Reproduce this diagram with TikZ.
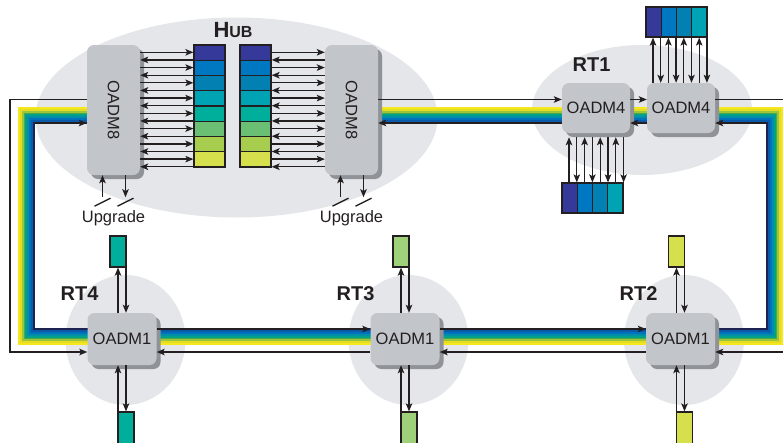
\documentclass[tikz,border=0pt]{standalone}
\usepackage{fontspec}
\setmainfont{Liberation Sans}
\usetikzlibrary{arrows.meta,shadows,calc}
\definecolor{wA}{HTML}{34399A}
\definecolor{wB}{HTML}{0078C1}
\definecolor{wC}{HTML}{0180B1}
\definecolor{wD}{HTML}{00A3B4}
\definecolor{wE}{HTML}{00AE9C}
\definecolor{wF}{HTML}{6ABF74}
\definecolor{wG}{HTML}{A6CD4E}
\definecolor{wH}{HTML}{D6E04C}
\definecolor{rtthree}{HTML}{9FD17A}
\definecolor{bgg}{HTML}{E5E6E9}
\definecolor{boxg}{HTML}{C2C5CA}
\definecolor{shadg}{HTML}{8F9297}
\definecolor{ink}{HTML}{231F20}
\definecolor{bzero}{HTML}{1E2452}
\definecolor{bone}{HTML}{0B5AAA}
\definecolor{btwo}{HTML}{0072BC}
\definecolor{bthree}{HTML}{008FA8}
\definecolor{bfour}{HTML}{00A08A}
\definecolor{bfive}{HTML}{48AA4C}
\definecolor{bsix}{HTML}{9CC53A}
\definecolor{bseven}{HTML}{E4DD24}
\definecolor{beight}{HTML}{F6E71C}
\begin{document}
\begin{tikzpicture}[x=1pt,y=-1pt,
  ln/.style={draw=ink, line width=1.35pt},
  ar/.style={ln, -{Stealth[length=8pt,width=6.5pt,inset=1.8pt]}},
  oadm/.style={fill=boxg, rounded corners=7pt, inner sep=0pt,
     drop shadow={shadow xshift=4pt, shadow yshift=-4pt, fill=shadg, opacity=1}},
  boxtext/.style={font=\fontsize{16.5}{18}\selectfont, text=ink},
  cell/.style={draw=ink, line width=1.2pt, inner sep=0pt},
  rtlabel/.style={font=\fontsize{20}{21}\selectfont\bfseries, text=ink, anchor=base},
  uptext/.style={font=\fontsize{16.5}{18}\selectfont, text=ink, anchor=base}]
\useasboundingbox (0,0) rectangle (783,442);
% background ellipses
\fill[bgg] (236.5,117.5) ellipse [x radius=201, y radius=100];
\fill[bgg] (642,110) ellipse [x radius=110, y radius=65];
\fill[bgg] (125.5,340) ellipse [x radius=60, y radius=65];
\fill[bgg] (408.5,340) ellipse [x radius=60, y radius=65];
\fill[bgg] (684,340) ellipse [x radius=60, y radius=65];
% ring band
\foreach \t/\c in {16.15/beight,14.25/bseven,12.35/bsix,10.45/bfive,8.55/bfour,6.65/bthree,4.75/btwo,2.85/bone,0.95/bzero}{
  \draw[\c, line width=1.98pt]
    (113.5,{124-\t}) -- ({35-\t},{124-\t}) -- ({35-\t},{328+\t}) -- ({766+\t},{328+\t})
    -- ({766+\t},{124-\t}) -- (351.5,{124-\t});
}
% boxes
\node[oadm, minimum width=53pt, minimum height=130pt] (hubL) at (113.5,110) {};
\node[boxtext, rotate=-90] (hubLt) at (hubL.center) {OADM8};
\node[oadm, minimum width=53pt, minimum height=130pt] (hubR) at (351.5,110) {};
\node[boxtext, rotate=-90] (hubRt) at (hubR.center) {OADM8};
\node[oadm, boxtext, minimum width=68pt, minimum height=50pt] (rt1L) at (596,108) {OADM4};
\node[oadm, boxtext, minimum width=68pt, minimum height=50pt] (rt1R) at (681,108) {OADM4};
\node[oadm, boxtext, minimum width=69pt, minimum height=52pt] (rt4) at (122,339) {OADM1};
\node[oadm, boxtext, minimum width=69pt, minimum height=52pt] (rt3) at (405,339) {OADM1};
\node[oadm, boxtext, minimum width=69pt, minimum height=52pt] (rt2) at (680.5,339) {OADM1};
% labels
\node[anchor=base, text=ink] (hublab) at (233,37) {\fontsize{22}{23}\selectfont\bfseries H\fontsize{16}{17}\selectfont UB};
\node[rtlabel] (l1) at (591.5,71) {RT1};
\node[rtlabel] (l4) at (79.5,300) {RT4};
\node[rtlabel] (l3) at (355.5,300) {RT3};
\node[rtlabel] (l2) at (638.5,300) {RT2};
% hub wavelength arrays
\foreach \i/\c in {0/wA,1/wB,2/wC,3/wD,4/wE,5/wF,6/wG,7/wH}{
  \node[cell, fill=\c, minimum width=31pt, minimum height=15.25pt] (lc\i) at (209.5,{52.6+15.25*\i}) {};
  \node[cell, fill=\c, minimum width=31pt, minimum height=15.25pt] (rc\i) at (255.5,{52.6+15.25*\i}) {};
}
\foreach \k in {0,2,...,14}{
  \pgfmathsetmacro\yy{52.3+7.63*\k}
  \draw[ar] (hubL.east |- 0,\yy) -- (lc0.west |- 0,\yy);
  \draw[ar] (rc0.east |- 0,\yy) -- (hubR.west |- 0,\yy);
}
\foreach \k in {1,3,...,15}{
  \pgfmathsetmacro\yy{52.3+7.63*\k}
  \draw[ar] (lc0.west |- 0,\yy) -- (hubL.east |- 0,\yy);
  \draw[ar] (hubR.west |- 0,\yy) -- (rc0.east |- 0,\yy);
}
% upgrade ports
\foreach \b in {hubL,hubR}{
  \draw[ar] ([xshift=-11pt,yshift=-22pt]\b.south) -- ([xshift=-11pt]\b.south);
  \draw[ar] ([xshift=12pt]\b.south) -- ([xshift=12pt,yshift=-22pt]\b.south);
  \draw[ln] ($(\b.south)+(-19,31)$) -- ++(16,-8);
  \draw[ln] ($(\b.south)+(4,31)$) -- ++(16,-8);
  \node[uptext] at ($(\b.south)+(0,47)$) {Upgrade};
}
% RT1 arrays
\foreach \i/\c in {0/wA,1/wB,2/wC,3/wD}{
  \node[cell, fill=\c, minimum width=15.25pt, minimum height=30pt] (ta\i) at ({653.6+15.25*\i},22) {};
  \node[cell, fill=\c, minimum width=15.25pt, minimum height=30pt] (ba\i) at ({569.6+15.25*\i},198) {};
}
\coordinate (rt1Lsh) at ([yshift=-4pt]rt1L.south);
\foreach \k in {0,2,4,6}{
  \pgfmathsetmacro\xa{653+7.7*\k}
  \pgfmathsetmacro\xb{653+7.7*(\k+1)}
  \draw[ar] (rt1R.north -| \xa,0) -- (ta0.south -| \xa,0);
  \draw[ar] (ta0.south -| \xb,0) -- (rt1R.north -| \xb,0);
  \pgfmathsetmacro\xc{569+7.8*\k}
  \pgfmathsetmacro\xd{569+7.8*(\k+1)}
  \draw[ar] (ba0.north -| \xc,0) -- (rt1Lsh -| \xc,0);
  \draw[ar] (rt1Lsh -| \xd,0) -- (ba0.north -| \xd,0);
}
% OADM1 drops
\foreach \r/\c/\col in {rt4/122/wE,rt3/405/rtthree,rt2/680.5/wH}{
  \node[cell, fill=\col, minimum width=16pt, minimum height=31pt] (\r t) at ({\c-4},251.5) {};
  \node[cell, fill=\col, minimum width=16pt, minimum height=38pt] (\r b) at ({\c+4},431) {};
  \draw[ar] (\r.north -| {\c-4},0) -- (\r t.south);
  \draw[ar] (\r t.south -| {\c+4},0) -- (\r.north -| {\c+4},0);
  \draw[ar] ({\c-4},443) -- (\r.south -| {\c-4},0);
  \draw[ar] (\r.south -| {\c+4},0) -- (\r b.north);
}
% thin fibre (outer)
\draw[ar] (hubL.west |- 0,99.5) -- (10,99.5) -- (10,352) -- (rt4.west |- 0,352);
\draw[ar] (rt3.west |- 0,352) -- (rt4.east |- 0,352);
\draw[ar] (rt2.west |- 0,352) -- (rt3.east |- 0,352);
\draw[ar] (784,352) -- (rt2.east |- 0,352);
\draw[ar] (hubR.east |- 0,99.5) -- (rt1L.west |- 0,99.5);
\draw[ar] (rt1L.east |- 0,99.5) -- (rt1R.west |- 0,99.5);
\draw[ln] (rt1R.east |- 0,99.5) -- (784,99.5);
% inner edge arrows of the band
\draw[ar] (35,123) -- (hubL.west |- 0,123);
\draw[ar] (rt1L.west |- 0,123) -- (hubR.east |- 0,123);
\draw[ar] (rt1R.west |- 0,123) -- (rt1L.east |- 0,123);
\draw[ar] (766,123) -- (rt1R.east |- 0,123);
\draw[ar] (rt4.east |- 0,329) -- (rt3.west |- 0,329);
\draw[ar] (rt3.east |- 0,329) -- (rt2.west |- 0,329);
\end{tikzpicture}
\end{document}
